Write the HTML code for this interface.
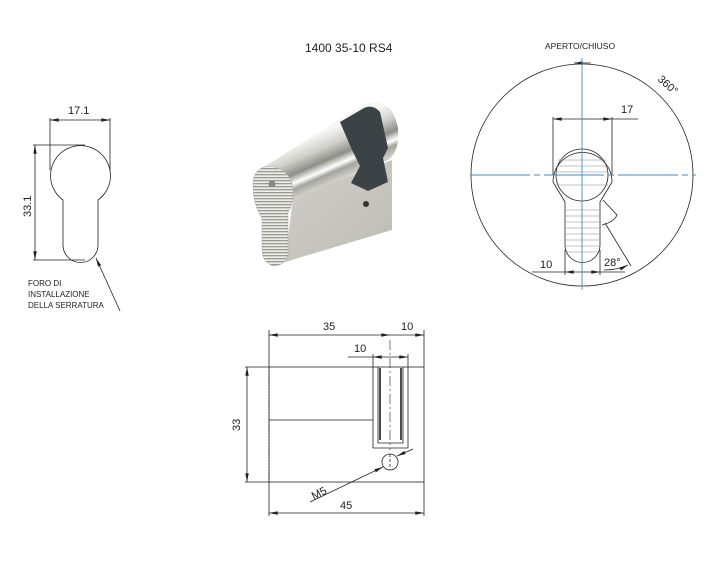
<!DOCTYPE html>
<html><head><style>html,body{margin:0;padding:0;background:#fff}svg{display:block}</style></head><body>
<svg width="720" height="577" viewBox="0 0 720 577" xmlns="http://www.w3.org/2000/svg" font-family="Liberation Sans, sans-serif">
<defs>
<marker id="a" viewBox="0 0 10 4" refX="10" refY="2" markerWidth="9" markerHeight="3.5" markerUnits="userSpaceOnUse" orient="auto-start-reverse"><path d="M0,0L10,2L0,4z" fill="#222"/></marker>
<linearGradient id="cyl" gradientUnits="userSpaceOnUse" x1="308" y1="138" x2="328" y2="184"><stop offset="0" stop-color="#f6f6f4"/><stop offset="0.3" stop-color="#d0d0ca"/><stop offset="0.55" stop-color="#8e8e88"/><stop offset="0.72" stop-color="#fff"/><stop offset="0.82" stop-color="#a4a49e"/><stop offset="1" stop-color="#cfcfc9"/></linearGradient>
<linearGradient id="body" x1="0" y1="0" x2="1" y2="1"><stop offset="0" stop-color="#cfcfc8"/><stop offset="1" stop-color="#bdbdb5"/></linearGradient>
<pattern id="rib" width="3" height="3" patternUnits="userSpaceOnUse"><rect width="3" height="3" fill="#ecece8"/><rect width="3" height="1.3" fill="#9a9a94"/></pattern>
</defs>
<g>
<path d="M285,262 L392,230 L392,160 L293,198 Z" fill="url(#body)"/>
<path d="M262,168 L365,104 Q392,96 398,128 Q400,152 388,160 L293,200 Z" fill="url(#cyl)"/>
<path d="M340,122 L364,108 Q373,104 380,112 L388,148 L383,158 L388,182 L368,191 L351,183 L360,166 L352,150 Z" fill="#3b4346"/>
<path d="M253,185 Q253,167 270,166 Q293,170 293,192 Q293,205 288,212 L288,255 Q285,266 273,266 Q262,262 262,250 L262,218 Q253,205 253,185 Z" fill="url(#rib)" stroke="#aaa" stroke-width="0.5"/>
<circle cx="272" cy="184" r="3.5" fill="#888"/>
<circle cx="366" cy="204" r="3" fill="#333"/>
</g>
<g fill="none" stroke="#222" stroke-width="0.8">
<path d="M63,200 A30,30 0 1 1 98,200 L98,245 A17,17 0 0 1 63,245 Z"/>
<line x1="50" y1="120" x2="110" y2="120" marker-start="url(#a)" marker-end="url(#a)"/>
<line x1="50" y1="118" x2="50" y2="170"/><line x1="110" y1="118" x2="110" y2="170"/>
<line x1="35" y1="145" x2="35" y2="260" marker-start="url(#a)" marker-end="url(#a)"/>
<line x1="33" y1="145" x2="85" y2="145"/><line x1="33" y1="260" x2="85" y2="260"/>
<line x1="120" y1="311" x2="96" y2="258" marker-end="url(#a)"/>
<circle cx="582" cy="175" r="111"/>
<path d="M553,182 A29,29 0 1 1 612,182 L600,202 L600,245 A17.5,17.5 0 0 1 565,245 L565,202 Z"/>
<circle cx="582" cy="175" r="26"/>
<g stroke="#888" stroke-width="0.6">
<line x1="558" y1="160" x2="606" y2="160"/><line x1="556" y1="166" x2="608" y2="166"/><line x1="556" y1="172" x2="608" y2="172"/><line x1="556" y1="185" x2="608" y2="185"/>
<line x1="566" y1="210" x2="599" y2="210"/><line x1="566" y1="216" x2="599" y2="216"/><line x1="566" y1="222" x2="599" y2="222"/><line x1="566" y1="228" x2="599" y2="228"/><line x1="566" y1="234" x2="599" y2="234"/><line x1="566" y1="240" x2="599" y2="240"/><line x1="566" y1="246" x2="599" y2="246"/><line x1="566" y1="252" x2="599" y2="252"/>
</g>
<line x1="553" y1="119" x2="612" y2="119" marker-start="url(#a)" marker-end="url(#a)"/>
<line x1="612" y1="119" x2="638" y2="119"/>
<line x1="553" y1="117" x2="553" y2="175"/><line x1="612" y1="117" x2="612" y2="175"/>
<line x1="574" y1="63" x2="591" y2="63" marker-start="url(#a)"/>
<line x1="532" y1="272" x2="565" y2="272"/><line x1="565" y1="272" x2="600" y2="272" marker-start="url(#a)" marker-end="url(#a)"/><line x1="600" y1="272" x2="625" y2="272"/>
<line x1="565" y1="250" x2="565" y2="275"/><line x1="600" y1="250" x2="600" y2="275"/>
<path d="M603,200 L617,215 Q614,222 602,225"/>
<line x1="605" y1="223" x2="631" y2="266"/>
<path d="M604,270 Q618,270 628,265" marker-end="url(#a)"/>
<rect x="269" y="367" width="155" height="115"/>
<line x1="269" y1="420" x2="373" y2="420"/>
<line x1="269" y1="367" x2="269" y2="482" stroke-dasharray="2,1"/>
<path d="M373,367 L373,448 L408,448 L408,367"/>
<path d="M378,367 L378,443 L403,443 L403,367"/>
<line x1="380" y1="368" x2="380" y2="440" stroke-width="1.6"/><line x1="401" y1="368" x2="401" y2="440" stroke-width="1.6"/>
<line x1="390" y1="340" x2="390" y2="450" stroke-dasharray="10,3,2,3" stroke-width="0.6"/>
<circle cx="390" cy="462" r="8"/><line x1="390" y1="454" x2="390" y2="470" stroke-dasharray="3,2"/>
<line x1="269" y1="335" x2="390" y2="335" marker-start="url(#a)" marker-end="url(#a)"/>
<line x1="390" y1="335" x2="424" y2="335" marker-end="url(#a)"/>
<line x1="269" y1="330" x2="269" y2="367"/><line x1="424" y1="330" x2="424" y2="367"/>
<line x1="348" y1="357" x2="373" y2="357"/><line x1="373" y1="357" x2="408" y2="357" marker-start="url(#a)" marker-end="url(#a)"/>
<line x1="373" y1="354" x2="373" y2="367"/><line x1="408" y1="354" x2="408" y2="367"/>
<line x1="247" y1="367" x2="247" y2="482" marker-start="url(#a)" marker-end="url(#a)"/>
<line x1="245" y1="367" x2="269" y2="367"/><line x1="245" y1="482" x2="269" y2="482"/>
<line x1="269" y1="513" x2="424" y2="513" marker-start="url(#a)" marker-end="url(#a)"/>
<line x1="269" y1="482" x2="269" y2="516"/><line x1="424" y1="482" x2="424" y2="516"/>
<line x1="310" y1="502" x2="383" y2="467" marker-end="url(#a)"/>
<line x1="397" y1="456" x2="413" y2="449" marker-start="url(#a)"/>
</g>
<g stroke="#3a8fd8" stroke-width="0.9">
<line x1="470" y1="175" x2="696" y2="175" stroke-dasharray="60,4,6,4"/>
<line x1="582" y1="58" x2="582" y2="290"/>
</g>
<g fill="#222" font-size="11">
<text x="305" y="52" font-size="12">1400 35-10 RS4</text>
<text x="68" y="114">17.1</text>
<text transform="translate(31,217) rotate(-90)">33.1</text>
<g font-size="8"><text x="28" y="286">FORO DI</text><text x="28" y="297">INSTALLAZIONE</text><text x="28" y="308">DELLA SERRATURA</text></g>
<text x="545" y="49" font-size="8.5">APERTO/CHIUSO</text>
<text transform="translate(657,80) rotate(42)">360°</text>
<text x="621" y="113">17</text>
<text x="540" y="268">10</text>
<text x="604" y="266">28°</text>
<text x="323" y="330">35</text>
<text x="401" y="330">10</text>
<text x="354" y="352">10</text>
<text transform="translate(240,431) rotate(-90)">33</text>
<text x="340" y="509">45</text>
<text transform="translate(314,500) rotate(-28)">M5</text>
</g>
</svg>
</body></html>
